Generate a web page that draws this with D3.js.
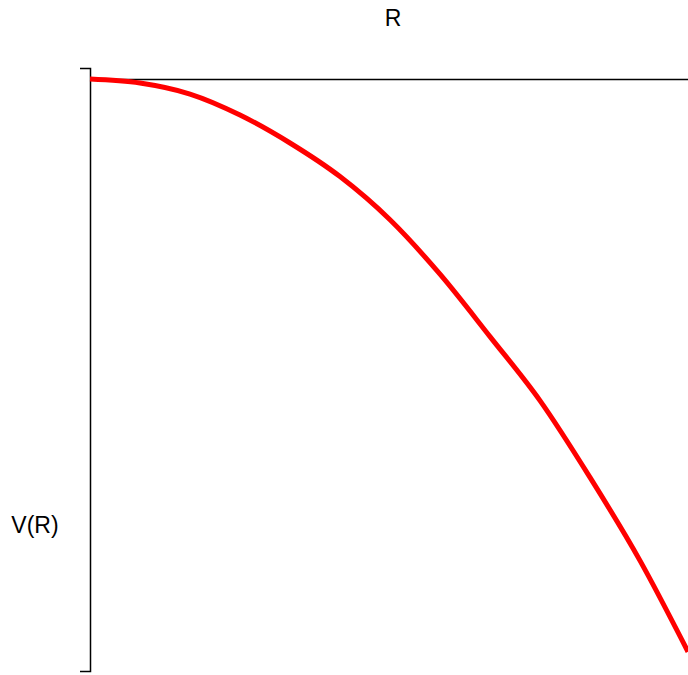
<!DOCTYPE html>
<html>
<head>
<meta charset="utf-8">
<script src="https://cdn.jsdelivr.net/npm/d3@7"></script>
<style>
  body { margin: 0; background: #fff; }
  text { font-family: "Liberation Sans", Arial, sans-serif; }
</style>
</head>
<body>
<script>
// Values
var rValues = [0, 0.5, 1.0, 1.5, 2.0, 2.5, 3.0, 3.5, 4.0, 4.5, 5.0, 5.5, 5.98];
var vValues = [0, -0.25, -0.94, -2.25, -4.0, -6.1, -8.8, -12.2, -16.1, -20.1, -24.9, -30.1, -35.8];
var xLabel = "R";
var yLabel = "V(R)";

var width = 688, height = 675;
var margin = {top: 79, left: 90};

var svg = d3.select("body")
  .append("svg")
    .attr("width", width)
    .attr("height", height);

var x = d3.scaleLinear()
  .domain([0, 6])
  .range([margin.left, 690]);

var y = d3.scaleLinear()
  .domain([0, -36])
  .range([margin.top, 655]);

// Y axis: only the line with end ticks
svg.append("g")
  .attr("transform", "translate(" + margin.left + ",0)")
  .call(d3.axisLeft(y.copy().domain([y.invert(68), y.invert(671)]).range([68, 671]))
    .tickValues([])
    .tickSizeOuter(10))
  .call(function(g) { g.select(".domain").attr("stroke", "#000").attr("stroke-width", 1.5); });

// X axis along the top at V = 0
svg.append("g")
  .attr("transform", "translate(0," + y(0) + ")")
  .call(d3.axisTop(x.copy().range([margin.left, 700]).domain([0, x.invert(700)]))
    .tickValues([])
    .tickSizeOuter(0))
  .call(function(g) { g.select(".domain").attr("stroke", "#000").attr("stroke-width", 1.5); });

// The curve
var data = rValues.map(function(r, i) { return {r: r, v: vValues[i]}; });

svg.append("path")
  .datum(data)
  .attr("fill", "none")
  .attr("stroke", "red")
  .attr("stroke-width", 5)
  .attr("stroke-linejoin", "round")
  .attr("d", d3.line()
    .x(function(d) { return x(d.r); })
    .y(function(d) { return y(d.v); })
    .curve(d3.curveMonotoneX));

// Labels
svg.append("text")
  .attr("x", 393)
  .attr("y", 26)
  .attr("text-anchor", "middle")
  .style("font-size", "23px")
  .text(xLabel);

svg.append("text")
  .attr("x", 35)
  .attr("y", 533)
  .attr("text-anchor", "middle")
  .style("font-size", "23px")
  .text(yLabel);
</script>
</body>
</html>
